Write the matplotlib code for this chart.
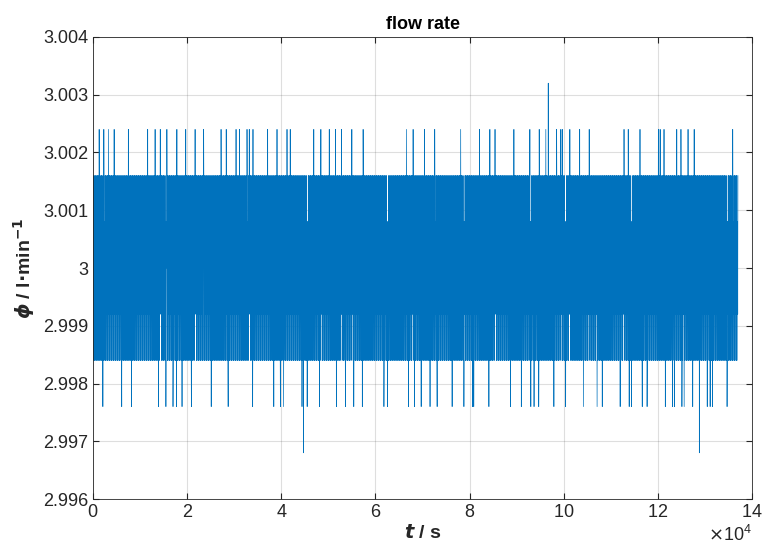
import numpy as np
import matplotlib
matplotlib.use("Agg")
import matplotlib.pyplot as plt
from matplotlib.ticker import FuncFormatter

plt.rcParams['font.family'] = ['Liberation Sans', 'DejaVu Sans']

# quantised flow-rate levels (l/min), step 0.0008
t_end = 13.7e4
n_samples = 4000
core_cycle = [3.0, 3.0008, 2.9992, 3.0016, 3.0, 2.9984, 3.0008, 2.9992,
              3.0016, 2.9984, 3.0, 3.0008]

# spikes (time in units of 1e4 s)
high_spikes = [0.13, 0.23, 0.33, 0.45, 0.61, 0.75, 1.16, 1.32, 1.43, 1.57,
               1.78, 1.97, 2.17, 2.35, 2.72, 2.83, 3.04, 3.11, 3.27, 3.32,
               3.40, 3.71, 3.91, 4.12, 4.19, 4.69, 4.84, 5.02, 5.15, 5.28,
               5.50, 5.74, 6.66, 6.80, 7.04, 7.26, 7.81, 8.21, 8.43, 8.54,
               8.94, 9.28, 9.48, 9.62, 9.85, 9.94, 9.97, 10.13, 10.34,
               10.54, 11.28, 11.37, 11.62, 12.01, 12.05, 12.13, 12.35,
               12.40, 12.49, 12.64, 12.77, 13.11, 13.59]
low_spikes = [0.21, 0.61, 0.82, 1.39, 1.55, 1.70, 1.77, 1.89, 2.09, 2.51,
              2.87, 3.39, 3.84, 3.98, 4.05, 4.44, 4.55, 4.81, 5.17, 5.36,
              5.54, 5.72, 6.18, 6.26, 6.70, 6.83, 6.97, 7.16, 7.31, 7.63,
              7.88, 8.06, 8.09, 8.41, 8.87, 9.10, 9.30, 9.37, 9.47, 9.79,
              10.04, 10.42, 10.71, 10.82, 11.20, 11.39, 11.44, 11.67, 11.77,
              12.16, 12.31, 12.35, 12.51, 12.56, 12.74, 13.05, 13.11, 13.16,
              13.47]
high_value = 3.0024
low_value = 2.9976
max_spike = (9.67, 3.0032)
min_spikes = [(4.47, 2.9968), (12.88, 2.9968)]

t = np.linspace(0, t_end, n_samples)
phi = np.resize(np.array(core_cycle), n_samples)
for s in high_spikes:
    phi[np.argmin(np.abs(t - s * 1e4))] = high_value
for s in low_spikes:
    phi[np.argmin(np.abs(t - s * 1e4))] = low_value
phi[np.argmin(np.abs(t - max_spike[0] * 1e4))] = max_spike[1]
for s, v in min_spikes:
    phi[np.argmin(np.abs(t - s * 1e4))] = v

fig = plt.figure(figsize=(7.65, 5.57), dpi=100)
ax = fig.add_axes([0.1216, 0.1041, 0.983 - 0.1216, 0.9336 - 0.1041])
ax.plot(t, phi, color='#0072BD', linewidth=0.5)

ax.set_xlim(0, 14e4)
ax.set_ylim(2.996, 3.004)
ax.set_xticks(np.arange(0, 14.1e4, 2e4))
ax.set_yticks(np.arange(2.996, 3.0041, 0.001))
ax.ticklabel_format(style='sci', axis='x', scilimits=(4, 4), useMathText=True)
ax.yaxis.set_major_formatter(FuncFormatter(lambda v, p: f'{round(v, 4):g}'))

ax.grid(True, color='#262626', alpha=0.15, linewidth=0.8)
ax.tick_params(direction='in', top=True, right=True, length=4,
               labelsize=13, colors='#262626', labelcolor='#262626')
for sp in ax.spines.values():
    sp.set_color('#262626')
    sp.set_linewidth(0.6)
ax.xaxis.get_offset_text().set_fontsize(13)
ax.xaxis.get_offset_text().set_color('#262626')

ax.set_title('flow rate', fontsize=13, fontweight='bold', color='black')
ax.set_xlabel(r'$\mathbfit{t}$ / s', fontsize=14, fontweight='bold', color='#262626',
              labelpad=2)
ax.set_ylabel(r'$\mathbfit{\phi}$ / l$\mathbf{\cdot}$min$^{\mathbf{-1}}$', fontsize=14,
              fontweight='bold', color='#262626', labelpad=4)

fig.savefig('out.png', dpi=100)
